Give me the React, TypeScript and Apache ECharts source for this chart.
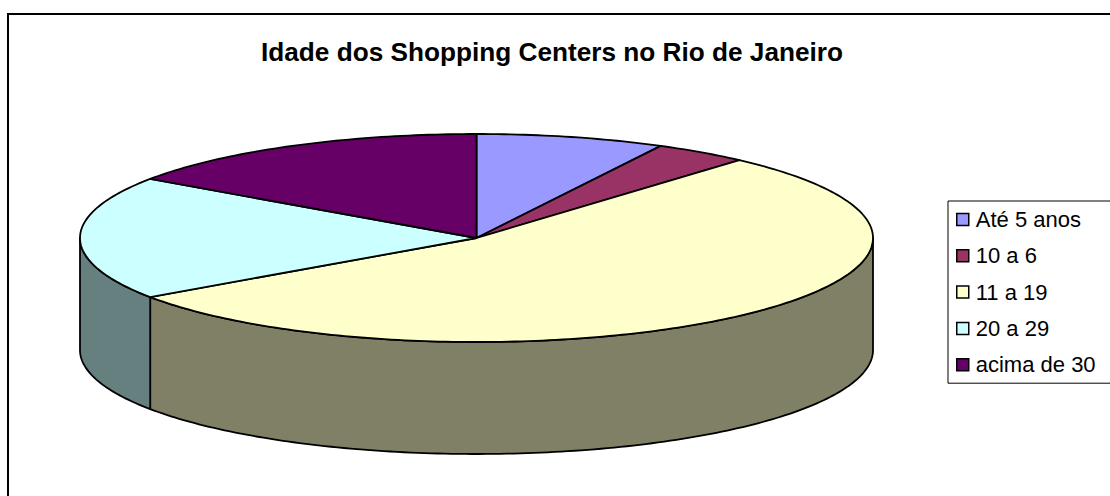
import React, { useEffect, useRef } from "react";
import * as echarts from "echarts";

const chartTitle = "Idade dos Shopping Centers no Rio de Janeiro";
const ageBands = ["Até 5 anos", "10 a 6", "11 a 19", "20 a 29", "acima de 30"];
const mallCounts = [2, 1, 14, 5, 4];
const topColors = ["#9999FF", "#993366", "#FFFFCC", "#CCFFFF", "#660066"];
const wallColors = ["#4D4D80", "#4D1A33", "#808066", "#668080", "#330033"];

// Tilted disc geometry, in pixels
const CX = 476.5;
const CY = 238;
const RX = 396.5;
const RY = 104;
const DEPTH = 112;
const STEP = Math.PI / 180;

const total = mallCounts.reduce((a, b) => a + b, 0);

// Point on the rim; the angle runs clockwise from twelve o'clock.
const rim = (t: number, dy = 0): number[] => [
  CX + RX * Math.sin(t),
  CY - RY * Math.cos(t) + dy,
];

const arc = (from: number, to: number, dy = 0): number[][] => {
  const n = Math.max(2, Math.ceil(Math.abs(to - from) / STEP));
  const pts: number[][] = [];
  for (let i = 0; i <= n; i++) pts.push(rim(from + ((to - from) * i) / n, dy));
  return pts;
};

const edge = { stroke: "#000", lineWidth: 1.8, lineJoin: "round" as const };

const sliceRenderer = (index: number) => (_params: any, api: any) => {
  const before = mallCounts.slice(0, index).reduce((a, b) => a + b, 0);
  const start = (before / total) * Math.PI * 2;
  const end = start + (Number(api.value(0)) / total) * Math.PI * 2;
  const children: any[] = [];

  // Only the part of the rim facing the viewer shows a wall.
  const wallFrom = Math.max(start, Math.PI / 2);
  const wallTo = Math.min(end, (Math.PI * 3) / 2);
  if (wallTo > wallFrom) {
    children.push({
      type: "polygon",
      shape: {
        points: [
          ...arc(wallFrom, wallTo),
          ...arc(wallTo, wallFrom, DEPTH),
        ],
      },
      style: { fill: wallColors[index], ...edge },
    });
  }

  children.push({
    type: "polygon",
    shape: { points: [[CX, CY], ...arc(start, end)] },
    style: { fill: topColors[index], ...edge },
  });

  return { type: "group", children };
};

export default function App() {
  const ref = useRef<HTMLDivElement>(null);

  useEffect(() => {
    document.body.style.margin = "0";
    const chart = echarts.init(ref.current!, undefined, { renderer: "svg" });
    chart.setOption({
      animation: false,
      backgroundColor: "#fff",
      title: {
        text: chartTitle,
        left: 547,
        top: 34,
        textAlign: "center",
        textStyle: {
          fontFamily: "Liberation Sans",
          fontSize: 26.2,
          fontWeight: "bold",
          color: "#000",
        },
      },
      legend: {
        orient: "vertical",
        left: 948,
        top: 201,
        padding: [7.5, 90, 7.5, 8],
        backgroundColor: "#fff",
        borderColor: "#000",
        borderWidth: 1,
        borderRadius: 0,
        icon: "rect",
        itemWidth: 12,
        itemHeight: 12,
        itemGap: 14.3,
        selectedMode: false,
        itemStyle: { borderColor: "#000", borderWidth: 1.5 },
        textStyle: {
          fontFamily: "Liberation Sans",
          fontSize: 22,
          lineHeight: 22,
          color: "#000",
          padding: [0, 0, 0, 2],
        },
        data: ageBands,
      },
      graphic: [
        {
          type: "rect",
          silent: true,
          z: -1,
          shape: { x: 8, y: 14, width: 1200, height: 600 },
          style: { fill: "none", stroke: "#000", lineWidth: 2 },
        },
      ],
      series: ageBands.map((name, i) => ({
        type: "custom",
        name,
        coordinateSystem: "none",
        clip: false,
        itemStyle: { color: topColors[i] },
        data: [[mallCounts[i]]],
        renderItem: sliceRenderer(i),
      })),
    });
    return () => chart.dispose();
  }, []);

  return <div ref={ref} style={{ width: 1110, height: 496 }} />;
}
